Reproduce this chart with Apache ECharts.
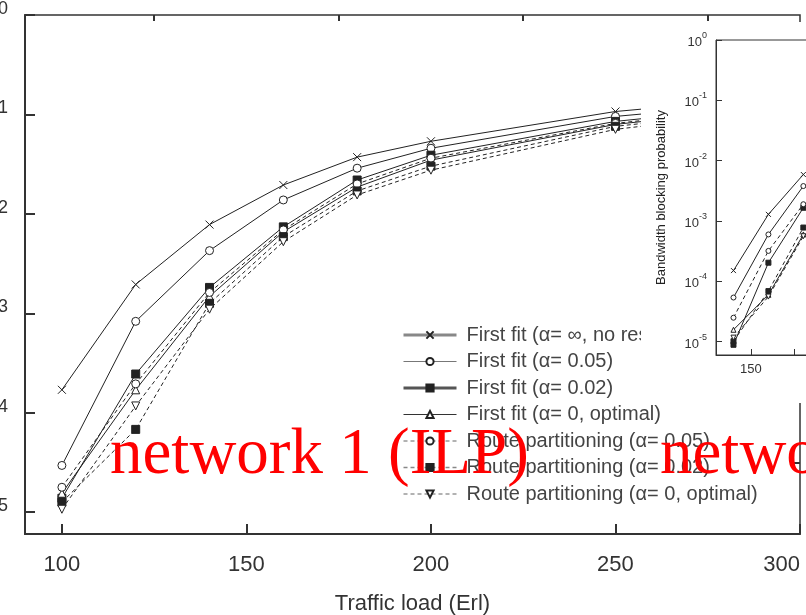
<!DOCTYPE html>
<html>
<head>
<meta charset="utf-8">
<script src="https://cdn.jsdelivr.net/npm/echarts@6/dist/echarts.min.js"></script>
<style>
  html, body { margin: 0; padding: 0; background: #fff; }
  #chart { width: 806px; height: 615px; }
</style>
</head>
<body>
<div id="chart"></div>
<script>
// traffic load (Erl) on the x axis
const loads = [100, 120, 140, 160, 180, 200, 250, 300];
const insetLoads = [140, 160, 180];

const seriesNames = [
  'First fit (α= ∞, no restriction)',
  'First fit (α= 0.05)',
  'First fit (α= 0.02)',
  'First fit (α= 0, optimal)',
  'Route partitioning (α= 0.05)',
  'Route partitioning (α= 0.02)',
  'Route partitioning (α= 0, optimal)'
];

// bandwidth blocking probability, network 1 (big panel)
const ffInf  = [1.70e-4, 1.95e-3, 7.8e-3, 0.0195, 0.0372, 0.0537, 0.107, 0.158];
const ff005  = [2.95e-5, 8.3e-4, 4.27e-3, 0.0138, 0.0288, 0.0457, 0.0955, 0.141];
const ff002  = [1.38e-5, 2.45e-4, 1.82e-3, 7.4e-3, 0.0219, 0.0389, 0.0851, 0.132];
const ff0    = [1.55e-5, 1.70e-4, 1.48e-3, 6.6e-3, 0.0186, 0.0347, 0.0794, 0.126];
const rp005  = [1.78e-5, 1.95e-4, 1.62e-3, 6.9e-3, 0.0200, 0.0363, 0.0813, 0.129];
const rp002  = [1.26e-5, 6.8e-5, 1.26e-3, 5.9e-3, 0.0170, 0.0302, 0.0759, 0.120];
const rp0    = [1.07e-5, 1.17e-4, 1.10e-3, 5.25e-3, 0.0155, 0.0275, 0.0708, 0.117];

// network 2 (small panel, only the left part is visible)
const ffInf2 = [1.51e-4, 1.29e-3, 5.9e-3];
const ff0052 = [5.4e-5, 6.0e-4, 3.8e-3];
const ff0022 = [8.9e-6, 2.04e-4, 1.66e-3];
const ff02   = [1.58e-5, 6.0e-5, 6.0e-4];
const rp0052 = [2.5e-5, 3.2e-4, 1.9e-3];
const rp0022 = [1.02e-5, 6.9e-5, 7.8e-4];
const rp02   = [1.17e-5, 5.6e-5, 5.6e-4];

// ticks
const xLabelVals = [100, 150, 200, 250, 300];
const xMinorVals = [125, 175, 225, 275];
const insetXLabelVals = [150, 200, 250, 300];
const insetXTickVals = [150, 175, 200, 225, 250, 275, 300];
const yTickVals = [1e-5, 1e-4, 1e-3, 1e-2, 1e-1, 1];
const yMinorVals = [3.162e-6, 3.162e-5, 3.162e-4, 3.162e-3, 3.162e-2, 3.162e-1];
const yMin = 6.03e-6;

const mainData = [ffInf, ff005, ff002, ff0, rp005, rp002, rp0];
const insetData = [ffInf2, ff0052, ff0022, ff02, rp0052, rp0022, rp02];

const ink = '#222';
const crossPath = 'path://M0,0L10,10M10,0L0,10';
const marks = [
  { symbol: crossPath, fill: ink, dashed: false },
  { symbol: 'circle', fill: '#fff', dashed: false },
  { symbol: 'rect', fill: ink, dashed: false },
  { symbol: 'triangle', fill: '#fff', dashed: false },
  { symbol: 'circle', fill: '#fff', dashed: true },
  { symbol: 'rect', fill: ink, dashed: true },
  { symbol: 'triangle', fill: '#fff', dashed: true, rotate: 180 }
];
const legendLine = [
  { width: 3, color: '#888' },
  { width: 1.2, color: '#777' },
  { width: 3, color: '#555' },
  { width: 1.2, color: '#333' },
  { width: 1.5, color: '#999' },
  { width: 1.5, color: '#888' },
  { width: 1.5, color: '#999' }
];

function pow10Label(v) {
  const e = Math.round(Math.log10(v));
  return '{b|10}{s|' + (e === 0 ? '0' : '-' + (-e)) + '}';
}

let chart = echarts.init(document.getElementById('chart'));

let series = [];
seriesNames.forEach(function (name, i) {
  const m = marks[i];
  const common = {
    name: name,
    type: 'line',
    symbol: m.symbol,
    symbolRotate: m.rotate || 0,
    itemStyle: { color: m.fill, borderColor: ink, borderWidth: 1 },
    lineStyle: { color: ink, width: 1, type: m.dashed ? [4, 3] : 'solid' },
    emphasis: { disabled: true }
  };
  series.push(Object.assign({}, common, {
    xAxisIndex: 0, yAxisIndex: 0, symbolSize: 8, z: 2,
    data: loads.map(function (x, k) { return [x, mainData[i][k]]; })
  }));
  series.push(Object.assign({}, common, {
    xAxisIndex: 2, yAxisIndex: 2, symbolSize: 5, z: 60,
    data: insetLoads.map(function (x, k) { return [x, insetData[i][k]]; })
  }));
});

chart.setOption({
  animation: false,
  backgroundColor: '#fff',
  textStyle: { fontFamily: 'Liberation Sans' },
  grid: [
    { left: 25, right: 6, top: 15, bottom: 81, outerBoundsMode: 'none', containLabel: false,
      show: true, borderColor: '#333', borderWidth: 1.5 },
    { left: 716, top: 40, width: 297, height: 315, outerBoundsMode: 'none', containLabel: false,
      show: true, borderColor: '#333', borderWidth: 1, z: 60 }
  ],
  legend: {
    orient: 'vertical', left: 397, top: 320,
    itemWidth: 53, itemHeight: 9, itemGap: 6.5,
    textStyle: { fontSize: 20, lineHeight: 20, color: '#444', padding: [0, 0, 0, 5] },
    data: seriesNames.map(function (n, i) {
      return { name: n, lineStyle: legendLine[i] };
    })
  },
  xAxis: [
    {
      type: 'value', gridIndex: 0, min: 90, max: 300,
      name: 'Traffic load (Erl)', nameLocation: 'middle', nameGap: 59,
      nameTextStyle: { fontSize: 22, color: '#333' },
      axisLine: { lineStyle: { color: '#333', width: 2 } },
      axisTick: { inside: true, length: 10, customValues: xLabelVals, lineStyle: { color: '#333', width: 2 } },
      axisLabel: { customValues: xLabelVals, fontSize: 22, color: '#333', margin: 20, alignMaxLabel: 'right' },
      splitLine: { show: false }
    },
    {
      type: 'value', gridIndex: 0, min: 90, max: 300,
      axisLine: { show: false },
      axisTick: { inside: true, length: 6, customValues: xMinorVals, lineStyle: { color: '#333', width: 2 } },
      axisLabel: { show: false },
      splitLine: { show: false }
    },
    {
      type: 'value', gridIndex: 1, min: 130, max: 300, z: 60,
      axisLine: { lineStyle: { color: '#333', width: 1 } },
      axisTick: { inside: true, length: 6, customValues: insetXTickVals, lineStyle: { color: '#333' } },
      axisLabel: { customValues: insetXLabelVals, fontSize: 13, color: '#333', margin: 8 },
      splitLine: { show: false }
    }
  ],
  yAxis: [
    {
      type: 'log', gridIndex: 0, min: yMin, max: 1,
      axisLine: { lineStyle: { color: '#333', width: 2 } },
      axisTick: { inside: true, length: 10, customValues: yTickVals, lineStyle: { color: '#333', width: 2 } },
      axisLabel: {
        customValues: yTickVals, margin: 17, color: '#333', formatter: pow10Label,
        rich: {
          b: { fontSize: 24, lineHeight: 30, verticalAlign: 'bottom', color: '#333' },
          s: { fontSize: 18, verticalAlign: 'top', color: '#333' }
        }
      },
      splitLine: { show: false }
    },
    {
      type: 'log', gridIndex: 0, min: yMin, max: 1,
      axisLine: { show: false },
      axisTick: { inside: true, length: 6, customValues: yMinorVals, lineStyle: { color: '#333', width: 2 } },
      axisLabel: { show: false },
      splitLine: { show: false }
    },
    {
      type: 'log', gridIndex: 1, min: yMin, max: 1, z: 60,
      name: 'Bandwidth blocking probability', nameLocation: 'middle', nameGap: 48,
      nameTextStyle: { fontSize: 13, color: '#222' },
      axisLine: { lineStyle: { color: '#333', width: 1 } },
      axisTick: { inside: true, length: 6, customValues: yTickVals, lineStyle: { color: '#333' } },
      axisLabel: {
        customValues: yTickVals, margin: 9, color: '#333', formatter: pow10Label,
        rich: {
          b: { fontSize: 13, lineHeight: 18, verticalAlign: 'bottom', color: '#333' },
          s: { fontSize: 9, verticalAlign: 'top', color: '#333' }
        }
      },
      splitLine: { show: false }
    },
    {
      type: 'log', gridIndex: 1, min: yMin, max: 1, z: 60,
      axisLine: { show: false },
      axisTick: { inside: true, length: 3, customValues: yMinorVals, lineStyle: { color: '#333' } },
      axisLabel: { show: false },
      splitLine: { show: false }
    }
  ],
  graphic: [
    // white paper of the pasted second panel
    { type: 'rect', shape: { x: 641, y: 22, width: 165, height: 381 }, style: { fill: '#fff' }, z: 50 },
    { type: 'text', left: 110, top: 423, z: 100,
      style: { text: 'network 1 (ILP)', font: '65px "Liberation Serif"', fill: '#ff0000' } },
    { type: 'text', left: 660, top: 423, z: 100,
      style: { text: 'network 2', font: '65px "Liberation Serif"', fill: '#ff0000' } }
  ],
  series: series
});
</script>
</body>
</html>
